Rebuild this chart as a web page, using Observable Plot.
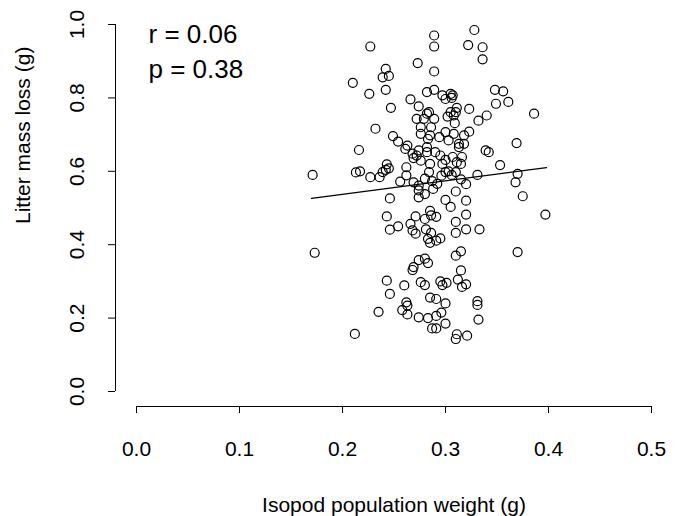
<!DOCTYPE html>
<html><head><meta charset="utf-8">
<script src="https://cdn.jsdelivr.net/npm/d3@7"></script>
<script src="https://cdn.jsdelivr.net/npm/@observablehq/plot@0.6"></script>
<style>html,body{margin:0;padding:0;background:#fff}svg{display:block}</style>
</head><body><div id="chart"></div>
<script>
// Isopod population weight (g)
const isopodWeight = [
  0.227,0.273,0.242,0.239,0.245,0.210,0.226,0.242,0.266,0.274,
  0.247,0.272,0.276,0.276,0.232,0.249,0.254,0.263,0.261,0.216,
  0.268,0.269,0.243,0.245,0.242,0.213,0.217,0.227,0.236,0.262,
  0.262,0.171,0.239,0.256,0.269,0.274,0.274,0.274,0.246,0.243,
  0.246,0.254,0.266,0.271,0.268,0.271,0.173,0.269,0.268,0.274,
  0.276,0.243,0.260,0.246,0.262,0.263,0.258,0.263,0.235,0.274,
  0.212,0.328,0.289,0.289,0.322,0.336,0.336,0.289,0.348,0.356,
  0.282,0.289,0.297,0.300,0.305,0.307,0.306,0.349,0.361,0.284,
  0.282,0.323,0.305,0.310,0.311,0.308,0.302,0.386,0.340,0.332,
  0.279,0.289,0.309,0.286,0.285,0.300,0.308,0.318,0.323,0.294,
  0.283,0.303,0.313,0.318,0.313,0.369,0.339,0.342,0.274,0.282,
  0.290,0.272,0.282,0.295,0.300,0.297,0.307,0.311,0.316,0.315,
  0.276,0.285,0.353,0.284,0.300,0.303,0.310,0.370,0.280,0.287,
  0.292,0.296,0.306,0.315,0.320,0.331,0.368,0.375,0.288,0.280,
  0.310,0.300,0.320,0.305,0.285,0.286,0.291,0.280,0.320,0.310,
  0.397,0.281,0.286,0.310,0.320,0.333,0.285,0.291,0.295,0.283,
  0.315,0.370,0.310,0.280,0.283,0.315,0.312,0.280,0.295,0.297,
  0.301,0.320,0.316,0.291,0.285,0.300,0.331,0.331,0.296,0.283,
  0.291,0.332,0.300,0.287,0.291,0.311,0.321,0.310
];
// Litter mass loss (g)
const litterMassLoss = [
  0.940,0.895,0.879,0.856,0.860,0.841,0.811,0.822,0.796,0.777,
  0.773,0.743,0.720,0.702,0.716,0.696,0.681,0.670,0.661,0.658,
  0.648,0.636,0.619,0.608,0.604,0.597,0.600,0.584,0.584,0.611,
  0.589,0.590,0.598,0.572,0.570,0.561,0.548,0.529,0.526,0.477,
  0.441,0.450,0.457,0.477,0.439,0.430,0.378,0.339,0.331,0.358,
  0.298,0.302,0.289,0.266,0.243,0.234,0.222,0.210,0.217,0.202,
  0.157,0.985,0.970,0.940,0.944,0.938,0.905,0.872,0.822,0.818,
  0.816,0.822,0.807,0.797,0.811,0.807,0.800,0.784,0.789,0.761,
  0.757,0.770,0.761,0.761,0.773,0.752,0.749,0.757,0.752,0.738,
  0.743,0.743,0.731,0.720,0.698,0.707,0.702,0.698,0.708,0.693,
  0.688,0.684,0.675,0.675,0.666,0.677,0.657,0.652,0.657,0.652,
  0.652,0.643,0.666,0.643,0.631,0.620,0.639,0.625,0.639,0.620,
  0.629,0.620,0.617,0.598,0.598,0.600,0.598,0.593,0.580,0.573,
  0.566,0.588,0.590,0.578,0.565,0.590,0.570,0.532,0.552,0.538,
  0.545,0.522,0.520,0.503,0.492,0.480,0.476,0.470,0.482,0.462,
  0.482,0.442,0.432,0.432,0.442,0.442,0.405,0.411,0.417,0.416,
  0.382,0.380,0.370,0.362,0.350,0.330,0.305,0.290,0.300,0.290,
  0.296,0.292,0.285,0.252,0.256,0.240,0.246,0.236,0.215,0.200,
  0.206,0.196,0.185,0.172,0.172,0.156,0.152,0.143
];
// Fitted regression line end points
const fitX = [0.170, 0.398];
const fitY = [0.526, 0.610];

const xTicks = [0, 0.1, 0.2, 0.3, 0.4, 0.5];
const yTicks = [0, 0.2, 0.4, 0.6, 0.8, 1.0];
const statsText = ["r = 0.06", "p = 0.38"];
const xTitle = "Isopod population weight (g)";
const yTitle = "Litter mass loss (g)";

const points = isopodWeight.map((x, i) => ({x, y: litterMassLoss[i]}));
const fit = fitX.map((x, i) => ({x, y: fitY[i]}));
const font = "'Liberation Sans', Arial, Helvetica, sans-serif";
const fmt = d => d.toFixed(1);

const chart = Plot.plot({
  width: 675, height: 516,
  marginLeft: 115, marginRight: 3, marginTop: 9, marginBottom: 110,
  insetLeft: 21, insetRight: 21, insetTop: 15, insetBottom: 15,
  style: {fontFamily: font, background: "#fff", color: "#000", overflow: "visible"},
  x: {domain: [0, 0.5], axis: null},
  y: {domain: [0, 1], axis: null},
  marks: [
    // axis lines (R style, detached from the plot region)
    Plot.ruleY([0], {x1: 0, x2: 0.5, dy: 15, stroke: "#000", strokeWidth: 1}),
    Plot.ruleX([0], {y1: 0, y2: 1, dx: -21, stroke: "#000", strokeWidth: 1}),
    // tick marks
    Plot.ruleX(xTicks, {x: d => d, insetTop: 397, insetBottom: -7, stroke: "#000", strokeWidth: 1}),
    Plot.ruleY(yTicks, {y: d => d, insetLeft: -7, insetRight: 557, stroke: "#000", strokeWidth: 1}),
    // tick labels
    Plot.text(xTicks, {x: d => d, frameAnchor: "bottom", dy: 43, text: fmt, fontSize: 21, lineAnchor: "middle", fill: "#000"}),
    Plot.text(yTicks, {y: d => d, frameAnchor: "left", dx: -38, rotate: -90, text: fmt, fontSize: 21, textAnchor: "middle", lineAnchor: "middle", fill: "#000"}),
    // axis titles
    Plot.text([xTitle], {frameAnchor: "bottom", dy: 99, fontSize: 21, lineAnchor: "middle", fill: "#000"}),
    Plot.text([yTitle], {frameAnchor: "left", dx: -92, dy: 16, rotate: -90, fontSize: 21, lineAnchor: "middle", fill: "#000"}),
    // data
    Plot.dot(points, {x: "x", y: "y", r: 4.5, stroke: "#000", strokeWidth: 1.2, fill: "none"}),
    Plot.line(fit, {x: "x", y: "y", stroke: "#000", strokeWidth: 1.3}),
    // statistics annotation
    Plot.text([statsText.join("\n")], {frameAnchor: "top-left", textAnchor: "start", lineAnchor: "top", dx: 33, dy: 9, fontSize: 26, lineHeight: 1.33, fill: "#000"})
  ]
});
document.getElementById("chart").appendChild(chart);
</script>
</body></html>
